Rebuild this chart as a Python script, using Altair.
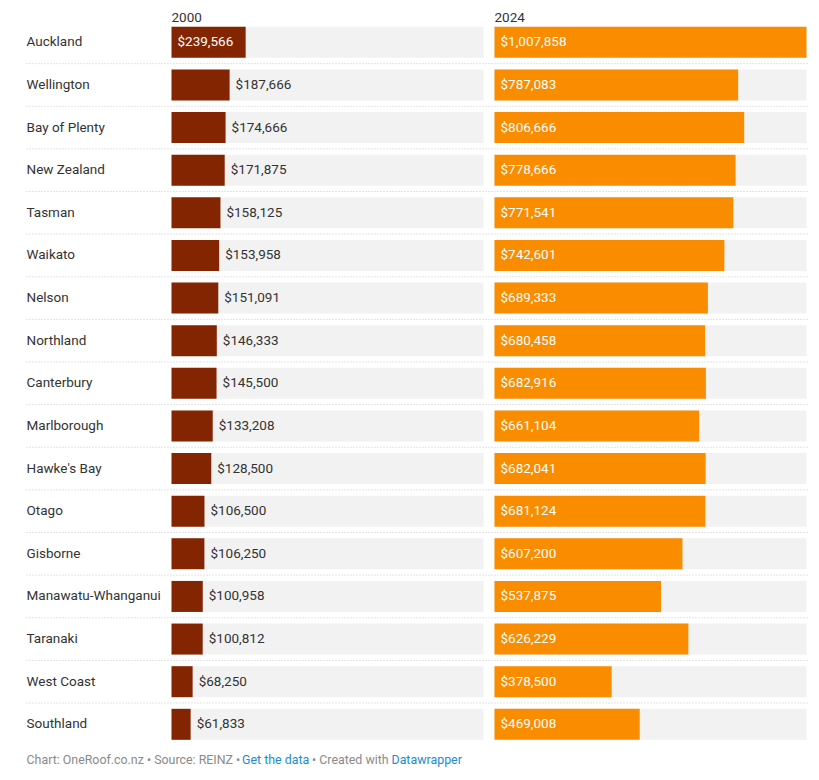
import altair as alt
import pandas as pd

# ---------------- data ----------------
regions = [
    "Auckland", "Wellington", "Bay of Plenty", "New Zealand", "Tasman",
    "Waikato", "Nelson", "Northland", "Canterbury", "Marlborough",
    "Hawke's Bay", "Otago", "Gisborne", "Manawatu-Whanganui", "Taranaki",
    "West Coast", "Southland",
]
v2000 = [
    239566, 187666, 174666, 171875, 158125, 153958, 151091, 146333, 145500,
    133208, 128500, 106500, 106250, 100958, 100812, 68250, 61833,
]
v2024 = [
    1007858, 787083, 806666, 778666, 771541, 742601, 689333, 680458, 682916,
    661104, 682041, 681124, 607200, 537875, 626229, 378500, 469008,
]
col_titles = ["2000", "2024"]
footer_gray1 = "Chart: OneRoof.co.nz • Source: REINZ •"
footer_link1 = "Get the data"
footer_gray2 = "• Created with"
footer_link2 = "Datawrapper"

# ---------------- styling ----------------
FONT = "Roboto"
DARK = "#832500"
ORANGE = "#fa8c00"
BG = "#f2f2f2"
TXT = "#333333"
GRAY = "#8a8a8a"
LINK = "#1d8bd1"
FS = 13.5

MAX = max(max(v2000), max(v2024))
W = 312
STEP = 42.625
H = STEP * len(regions)
BAR_H = 31

df = pd.DataFrame({"region": regions, "v2000": v2000, "v2024": v2024})
df["full"] = MAX

yenc = alt.Y("region:N", sort=regions,
             scale=alt.Scale(paddingInner=0, paddingOuter=0), axis=None)


def xenc(field):
    return alt.X(f"{field}:Q", scale=alt.Scale(domain=[0, MAX], nice=False, zero=True),
                 axis=None)


base = alt.Chart(df)

# ---- left panel (2000) ----
bg_l = base.mark_bar(color=BG, height=BAR_H).encode(x=xenc("full"), y=yenc)
bars_l = base.mark_bar(color=DARK, height=BAR_H).encode(x=xenc("v2000"), y=yenc)
rules_l = base.transform_filter(f"datum.region != '{regions[-1]}'").mark_rule(
    color="#c8c8c8", strokeDash=[1, 2], strokeWidth=1, yOffset=STEP / 2
).encode(x=alt.value(-145), x2=alt.value(W + 9), y=yenc)
cats = base.mark_text(align="left", baseline="middle", font=FONT, fontSize=FS,
                      color=TXT).encode(x=alt.value(-145), y=yenc, text="region:N")
inside_expr = f"datum.v2000 / {MAX} * {W} > 70"
lab_in_l = base.transform_filter(inside_expr).mark_text(
    align="left", baseline="middle", dx=6, font=FONT, fontSize=FS, color="white"
).encode(x=alt.value(0), y=yenc, text=alt.Text("v2000:Q", format="$,.0f"))
lab_out_l = base.transform_filter(f"!({inside_expr})").mark_text(
    align="left", baseline="middle", dx=6, font=FONT, fontSize=FS, color=TXT
).encode(x=xenc("v2000"), y=yenc, text=alt.Text("v2000:Q", format="$,.0f"))
head_l = alt.Chart(pd.DataFrame({"t": [col_titles[0]]})).mark_text(
    align="left", baseline="alphabetic", font=FONT, fontSize=FS, color=TXT
).encode(x=alt.value(0), y=alt.value(1), text="t:N")

foot_df = pd.DataFrame({
    "t": [footer_gray1, footer_link1, footer_gray2, footer_link2],
    "c": [GRAY, LINK, GRAY, LINK],
    "px": [-145.0, 70.5, 140.5, 220.0],
})
footer = alt.Chart(foot_df).mark_text(
    align="left", baseline="middle", font=FONT, fontSize=12.4
).encode(x=alt.X("px:Q", scale=None), y=alt.value(H + 14),
         text="t:N", color=alt.Color("c:N", scale=None))

left = alt.layer(bg_l, bars_l, rules_l, cats, lab_in_l, lab_out_l, head_l, footer).properties(
    width=W, height=H)

# ---- right panel (2024) ----
bg_r = base.mark_bar(color=BG, height=BAR_H).encode(x=xenc("full"), y=yenc)
bars_r = base.mark_bar(color=ORANGE, height=BAR_H).encode(x=xenc("v2024"), y=yenc)
rules_r = base.transform_filter(f"datum.region != '{regions[-1]}'").mark_rule(
    color="#c8c8c8", strokeDash=[1, 2], strokeWidth=1, yOffset=STEP / 2
).encode(x=alt.value(0), x2=alt.value(W + 2), y=yenc)
lab_r = base.mark_text(
    align="left", baseline="middle", dx=6, font=FONT, fontSize=FS, color="white"
).encode(x=alt.value(0), y=yenc, text=alt.Text("v2024:Q", format="$,.0f"))
head_r = alt.Chart(pd.DataFrame({"t": [col_titles[1]]})).mark_text(
    align="left", baseline="alphabetic", font=FONT, fontSize=FS, color=TXT
).encode(x=alt.value(0), y=alt.value(1), text="t:N")

right = alt.layer(bg_r, bars_r, rules_r, lab_r, head_r).properties(width=W, height=H)

chart = alt.hconcat(left, right, spacing=0).properties(
    padding={"left": 17.5, "top": 3, "right": 0, "bottom": 0}
).resolve_scale(x="independent", y="independent").configure_view(stroke=None)

chart.save("out.html", embed_options={"renderer": "svg", "actions": False})
